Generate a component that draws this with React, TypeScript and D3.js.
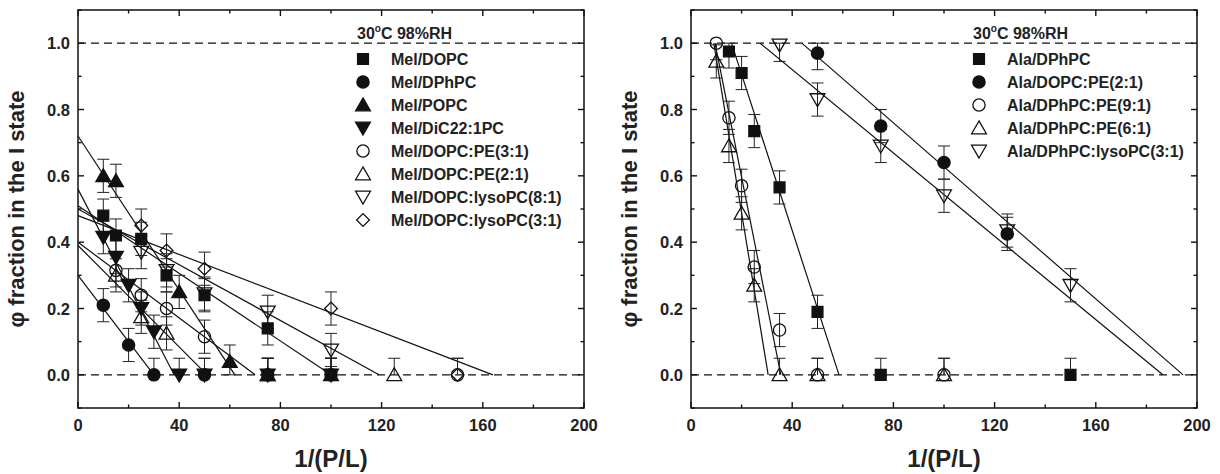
import React from "react";
import * as d3 from "d3";

// ---------- data ----------
const X_TICKS = [0, 40, 80, 120, 160, 200];
const Y_TICKS = [0, 0.2, 0.4, 0.6, 0.8, 1.0];
const ERR = 0.05;

// Left panel (melittin)
const melNames = ["Mel/DOPC", "Mel/DPhPC", "Mel/POPC", "Mel/DiC22:1PC", "Mel/DOPC:PE(3:1)", "Mel/DOPC:PE(2:1)", "Mel/DOPC:lysoPC(8:1)", "Mel/DOPC:lysoPC(3:1)"];
const melSymbols = ["square", "circle", "up", "down", "circle", "up", "down", "diamond"];
const melFilled = [true, true, true, true, false, false, false, false];

const melDOPC_x = [10, 15, 25, 35, 50, 75, 100];
const melDOPC_y = [0.48, 0.42, 0.41, 0.30, 0.24, 0.14, 0];
const melDPhPC_x = [10, 20, 30, 50, 75, 100];
const melDPhPC_y = [0.21, 0.09, 0, 0, 0, 0];
const melPOPC_x = [10, 15, 40, 60, 75, 100];
const melPOPC_y = [0.60, 0.585, 0.25, 0.04, 0, 0];
const melDiC22_x = [10, 15, 20, 25, 30, 40, 50, 75, 100];
const melDiC22_y = [0.415, 0.355, 0.27, 0.20, 0.13, 0, 0, 0, 0];
const melPE31_x = [15, 25, 35, 50, 150];
const melPE31_y = [0.315, 0.24, 0.20, 0.115, 0];
const melPE21_x = [15, 25, 35, 75, 125];
const melPE21_y = [0.30, 0.175, 0.125, 0, 0];
const melLyso81_x = [25, 35, 50, 75, 100];
const melLyso81_y = [0.37, 0.315, 0.245, 0.19, 0.075];
const melLyso31_x = [25, 35, 50, 100, 150];
const melLyso31_y = [0.45, 0.375, 0.32, 0.20, 0];

// fitted lines: [x start, y start, x end, y end]
const melFits = [
  [0, 0.51, 100, 0],
  [0, 0.30, 30, 0],
  [0, 0.72, 62, 0],
  [0, 0.56, 38, 0],
  [0, 0.40, 70, 0],
  [0, 0.39, 51, 0],
  [0, 0.50, 119, 0],
  [0, 0.48, 164, 0],
];

// Right panel (alamethicin)
const alaNames = ["Ala/DPhPC", "Ala/DOPC:PE(2:1)", "Ala/DPhPC:PE(9:1)", "Ala/DPhPC:PE(6:1)", "Ala/DPhPC:lysoPC(3:1)"];
const alaSymbols = ["square", "circle", "circle", "up", "down"];
const alaFilled = [true, true, false, false, false];

const alaDPhPC_x = [15, 20, 25, 35, 50, 75, 150];
const alaDPhPC_y = [0.975, 0.91, 0.735, 0.565, 0.19, 0, 0];
const alaPE21_x = [50, 75, 100, 125];
const alaPE21_y = [0.97, 0.75, 0.64, 0.425];
const alaPE91_x = [10, 15, 20, 25, 35, 50, 100];
const alaPE91_y = [1.0, 0.775, 0.57, 0.325, 0.135, 0, 0];
const alaPE61_x = [10, 15, 20, 25, 35, 50, 100];
const alaPE61_y = [0.945, 0.69, 0.487, 0.27, 0, 0, 0];
const alaLyso31_x = [35, 50, 75, 100, 125, 150];
const alaLyso31_y = [0.995, 0.83, 0.69, 0.54, 0.435, 0.27];

const alaFits = [
  [16, 1.0, 58.5, 0],
  [43.8, 1.0, 194.5, 0],
  [9.5, 1.0, 35.5, 0],
  [9, 1.0, 30.5, 0],
  [27.3, 1.0, 186.5, 0],
];

const melSeries = [
  [melDOPC_x, melDOPC_y], [melDPhPC_x, melDPhPC_y], [melPOPC_x, melPOPC_y], [melDiC22_x, melDiC22_y],
  [melPE31_x, melPE31_y], [melPE21_x, melPE21_y], [melLyso81_x, melLyso81_y], [melLyso31_x, melLyso31_y],
];
const alaSeries = [
  [alaDPhPC_x, alaDPhPC_y], [alaPE21_x, alaPE21_y], [alaPE91_x, alaPE91_y], [alaPE61_x, alaPE61_y], [alaLyso31_x, alaLyso31_y],
];

// ---------- layout ----------
const W = 1220, H = 474;
const TOP = 10, BOTTOM = 408;
const FONT = "'Liberation Sans', Arial, Helvetica, sans-serif";

function symbolPath(kind: string) {
  if (kind === "square") return d3.symbol(d3.symbolSquare, 118)();
  if (kind === "circle") return d3.symbol(d3.symbolCircle, 118)();
  if (kind === "up" || kind === "down") return d3.symbol(d3.symbolTriangle, 95)();
  if (kind === "diamond") return d3.symbol(d3.symbolSquare, 82)();
  return "";
}
function symbolRot(kind: string) {
  if (kind === "down") return 180;
  if (kind === "diamond") return 45;
  return 0;
}

function Marker({ kind, filled, x, y }: any) {
  const dy = kind === "up" ? 1.5 : kind === "down" ? -1.5 : 0;
  return (
    <path
      d={symbolPath(kind) as string}
      transform={`translate(${x},${y + dy}) rotate(${symbolRot(kind)})`}
      fill={filled ? "#111" : "none"}
      stroke="#111"
      strokeWidth={1.3}
    />
  );
}

function Panel({ x0, x1, series, symbols, filled, fits, names, legX }: any) {
  const xs = d3.scaleLinear().domain([0, 200]).range([x0, x1]);
  const ys = d3.scaleLinear().domain([-0.1, 1.1]).range([BOTTOM, TOP]);
  const minorX = d3.range(0, 201, 20);
  const minorY = d3.range(-0.1, 1.11, 0.1).map((v) => Math.round(v * 10) / 10);
  const line = d3.line<number[]>().x((d) => xs(d[0])).y((d) => ys(d[1]));
  const els: any[] = [];

  // fit lines
  fits.forEach((f: number[], i: number) => {
    els.push(<path key={"f" + i} d={line([[f[0], f[1]], [f[2], f[3]]]) as string} stroke="#111" strokeWidth={1.2} fill="none" />);
  });
  // dashed reference lines
  [0, 1].forEach((v) => {
    els.push(<line key={"ref" + v} x1={xs(0)} x2={xs(200)} y1={ys(v)} y2={ys(v)} stroke="#111" strokeWidth={1.3} strokeDasharray="8,5" />);
  });
  // error bars and markers
  series.forEach((s: number[][], i: number) => {
    const [sx, sy] = s;
    sx.forEach((xv: number, j: number) => {
      const yv = sy[j];
      const lo = Math.max(0, yv - ERR);
      const hi = Math.min(1, yv + ERR);
      const px = xs(xv);
      els.push(
        <g key={`e${i}-${j}`} stroke="#222" strokeWidth={1}>
          <line x1={px} x2={px} y1={ys(lo)} y2={ys(hi)} />
          {hi > yv + 1e-6 && <line x1={px - 6} x2={px + 6} y1={ys(hi)} y2={ys(hi)} />}
          {lo < yv - 1e-6 && <line x1={px - 6} x2={px + 6} y1={ys(lo)} y2={ys(lo)} />}
        </g>
      );
    });
  });
  series.forEach((s: number[][], i: number) => {
    const [sx, sy] = s;
    sx.forEach((xv: number, j: number) => {
      els.push(<Marker key={`m${i}-${j}`} kind={symbols[i]} filled={filled[i]} x={xs(xv)} y={ys(sy[j])} />);
    });
  });

  // axes frame
  els.push(<rect key="frame" x={x0} y={TOP} width={x1 - x0} height={BOTTOM - TOP} fill="none" stroke="#111" strokeWidth={1.5} />);
  minorX.forEach((v) => {
    const major = X_TICKS.includes(v);
    const len = major ? 6 : 3.5;
    els.push(<line key={"xb" + v} x1={xs(v)} x2={xs(v)} y1={BOTTOM} y2={BOTTOM - len} stroke="#111" strokeWidth={1.4} />);
    els.push(<line key={"xt" + v} x1={xs(v)} x2={xs(v)} y1={TOP} y2={TOP + len} stroke="#111" strokeWidth={1.4} />);
  });
  minorY.forEach((v) => {
    const major = Y_TICKS.some((t) => Math.abs(t - v) < 1e-6);
    const len = major ? 6 : 3.5;
    els.push(<line key={"yl" + v} x1={x0} x2={x0 + len} y1={ys(v)} y2={ys(v)} stroke="#111" strokeWidth={1.4} />);
    els.push(<line key={"yr" + v} x1={x1} x2={x1 - len} y1={ys(v)} y2={ys(v)} stroke="#111" strokeWidth={1.4} />);
  });
  X_TICKS.forEach((v) => {
    els.push(
      <text key={"xl" + v} x={xs(v)} y={431} textAnchor="middle" fontSize={16.5} fontWeight="bold" fontFamily={FONT} fill="#222">{v}</text>
    );
  });
  Y_TICKS.forEach((v) => {
    els.push(
      <text key={"ylab" + v} x={x0 - 8} y={ys(v) + 6} textAnchor="end" fontSize={16.5} fontWeight="bold" fontFamily={FONT} fill="#222">{v.toFixed(1)}</text>
    );
  });
  // axis titles
  els.push(
    <text key="xt" x={(x0 + x1) / 2} y={467} textAnchor="middle" fontSize={24} fontWeight="bold" fontFamily={FONT} fill="#222">1/(P/L)</text>
  );
  els.push(
    <text key="yt" transform={`translate(${x0 - 54},${(TOP + BOTTOM) / 2}) rotate(-90)`} textAnchor="middle" fontSize={22} fontWeight="bold" fontFamily={FONT} fill="#222">φ fraction in the I state</text>
  );

  // legend
  els.push(
    <text key="lh" x={legX - 6} y={39} fontSize={16} fontWeight="bold" fontFamily={FONT} fill="#222">
      30<tspan fontSize={10} dy={-7}>o</tspan><tspan dy={7}>C 98%RH</tspan>
    </text>
  );
  names.forEach((n: string, i: number) => {
    const cy = 59 + i * 23;
    els.push(<Marker key={"lm" + i} kind={symbols[i]} filled={filled[i]} x={legX} y={cy} />);
    els.push(
      <text key={"lt" + i} x={legX + 28} y={cy + 6} fontSize={16} fontWeight="bold" fontFamily={FONT} fill="#222">{n}</text>
    );
  });

  return <g>{els}</g>;
}

export default function App() {
  return (
    <svg width={W} height={H} style={{ position: "absolute", left: 0, top: 0, background: "#fff" }}>
      <rect width={W} height={H} fill="#fff" />
      <Panel x0={78} x1={584} series={melSeries} symbols={melSymbols} filled={melFilled} fits={melFits} names={melNames} legX={363} />
      <Panel x0={691} x1={1197} series={alaSeries} symbols={alaSymbols} filled={alaFilled} fits={alaFits} names={alaNames} legX={979} />
    </svg>
  );
}
